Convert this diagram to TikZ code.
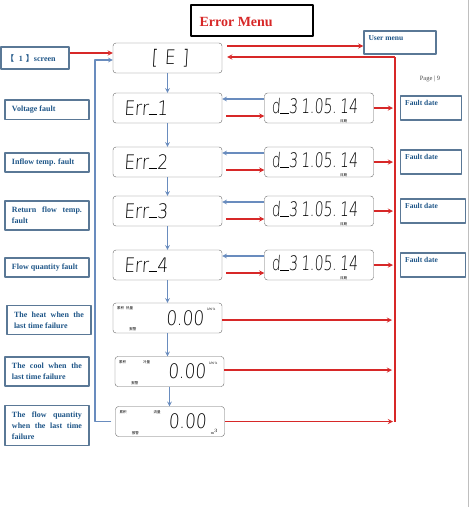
\documentclass[tikz,border=0pt]{standalone}
\usepackage{fontspec}
\setmainfont{Liberation Serif}
\newfontfamily\segfont[FakeStretch=0.85,FakeSlant=0.06]{DejaVu Sans ExtraLight}
\newfontfamily\segnarrow[FakeStretch=0.7,FakeSlant=0.06]{DejaVu Sans ExtraLight}
\newfontfamily\cjk{Noto Sans CJK SC}
\newcommand\segbar{\rule{0.42em}{0.07em}}
\usetikzlibrary{arrows.meta}
\definecolor{menured}{RGB}{215,40,40}
\definecolor{linkblue}{RGB}{105,140,190}
\definecolor{boxline}{RGB}{90,120,150}
\definecolor{labtext}{RGB}{30,85,135}
\begin{document}
\begin{tikzpicture}[x=1pt,y=-1pt,line join=round,>=stealth,
	lab/.style={draw=boxline,line width=1.4pt,text width=70pt,align=justify,inner xsep=7pt,inner ysep=6pt,
		font=\bfseries\fontsize{8}{11}\selectfont,text=labtext},
	tag/.style={draw=boxline,line width=1.4pt},
	tagtext/.style={anchor=north west,inner sep=5pt,font=\bfseries\fontsize{7.5}{9}\selectfont,text=labtext},
	lcd/.style={draw=black!60,rounded corners=3pt,minimum width=109pt,minimum height=30pt,thin},
	seg/.style={font=\segfont\fontsize{20}{20}\selectfont,inner sep=0pt},
	segd/.style={font=\segnarrow\fontsize{20}{20}\selectfont,inner sep=0pt},
	tiny/.style={font=\cjk\fontsize{3.5}{4}\selectfont,inner sep=0pt},
	redar/.style={->,draw=menured,line width=1.3pt},
	bluear/.style={->,draw=linkblue,line width=1.1pt}]
	\useasboundingbox (0,0) rectangle (471,507);
	\draw[black!25] (468,0)--(468,507);
	% title
	\node[draw,line width=1.3pt,minimum width=122pt,minimum height=31pt] (title) at (252,20.5) {};
	\node[anchor=west,text=menured,font=\bfseries\fontsize{14}{14}\selectfont] (titletext) at (196,21.5) {Error Menu};
	\node[font=\fontsize{6.5}{7}\selectfont,text=black!70] (page) at (430,79) {Page | 9};
	% entry and main display
	\node[lab,text width=58pt,inner xsep=5pt,align=left,minimum height=22pt] (scr) at (35,58) {{\cjk【}\hspace{5pt}1\hspace{3pt}{\cjk】}screen};
	\node[lcd] (ce) at (167.5,58) {};
	\node[seg] (cetext) at (170,58) {[\,\,E\,\,]};
	\node[tag,minimum width=72pt,minimum height=23pt,label={[tagtext]north west:User menu}] (user) at (400,42.5) {};
	% fault rows
	\foreach \k/\y/\w in {1/108/61,2/162/61,3/211/65,4/265/65}{
		\node[lcd] (e\k) at (167.5,\y) {};
		\node[seg,anchor=west] (e\k t) at ([xshift=11pt]e\k.west) {Err\segbar\k};
		\node[lcd] (d\k) at (319,\y) {};
		\node[segd,anchor=west] (d\k t) at ([xshift=7pt,yshift=1.5pt]d\k.west) {d\segbar3\,1.05.\,14};
		\node[tiny] (d\k s) at ([xshift=-30pt,yshift=2.5pt]d\k.south east) {日期};
		\node[tag,minimum width=\w pt,minimum height=24pt,anchor=west,label={[tagtext]north west:Fault date}] (f\k) at (400,\y) {};
		\draw[bluear] ([yshift=9pt]d\k.west) -- ([yshift=9pt]d\k.west -| e\k.east);
		\draw[redar] ([xshift=4pt,yshift=-8pt]e\k.east) -- ([yshift=-8pt]e\k.east -| d\k.west);
		\draw[redar] (d\k.east) -- (393,\y);
	}
	% totals
	\foreach \k/\x/\y/\what/\wx in {1/167.5/318/热量/13,2/169.5/371.5/冷量/28,3/170/421.5/流量/38}{
		\node[lcd] (h\k) at (\x,\y) {};
		\node[seg,anchor=east] (h\k t) at ([xshift=-18pt]h\k.east) {0.00};
		\node[tiny,anchor=north west] (h\k a) at ([xshift=4pt,yshift=-4pt]h\k.north west) {累积};
		\node[tiny,anchor=north west] (h\k b) at ([xshift=\wx pt,yshift=-4pt]h\k.north west) {\what};
		\node[tiny] (h\k c) at ([xshift=20pt,yshift=4pt]h\k.south west) {报警};
	}
	\node[tiny,font=\fontsize{3.5}{4}\selectfont,anchor=west] (h1u) at ([xshift=-15pt,yshift=-7pt]h1.north east) {kW·h};
	\node[tiny,font=\fontsize{3.5}{4}\selectfont,anchor=west] (h2u) at ([xshift=-15pt,yshift=-7pt]h2.north east) {kW·h};
	\node[tiny,font=\fontsize{4}{4}\selectfont,anchor=west] (h3u) at ([xshift=-14pt,yshift=5pt]h3.south east) {m$^3$};
	% left labels
	\node[lab] (l1) at (47,109.5) {Voltage fault};
	\node[lab] (l2) at (47,162.5) {Inflow temp. fault};
	\node[lab] (l3) at (47,215.5) {Return flow temp. fault};
	\node[lab] (l4) at (47,267.5) {Flow quantity fault};
	\node[lab] (l5) at (49,320) {The heat when the last time failure};
	\node[lab] (l6) at (47,371.5) {The cool when the last time failure};
	\node[lab] (l7) at (47,425.5) {The flow quantity when the last time failure};
	% blue chain
	\draw[bluear] (ce.south) -- (e1.north);
	\draw[bluear] (e1.south) -- (e2.north);
	\draw[bluear] (e2.south) -- (e3.north);
	\draw[bluear] (e3.south) -- (e4.north);
	\draw[bluear] (e4.south) -- (h1.north);
	\draw[bluear] (h1.south) -- (h1.south |- h2.north);
	\draw[bluear] (h2.south) -- (h2.south |- h3.north);
	\draw[bluear] ([xshift=-4pt]h3.west) -- (95,421.5) -- (95,60) -- ([yshift=-2pt]ce.west);
	% red links
	\coordinate (rtop) at (395,57);
	\coordinate (rbot) at (395,421.5);
	\draw[redar] (scr.east |- 0,53) -- ([yshift=5pt]ce.west);
	\draw[redar] ([xshift=5pt,yshift=12pt]ce.east) -- ([yshift=12pt]ce.east -| user.west);
	\draw[menured,line width=1.3pt] (rbot) -- (rtop);
	\draw[redar] (rtop) -- ([xshift=5pt]rtop -| ce.east);
	\foreach \k/\y in {1/320,2/370}{
		\draw[redar] (h\k.east |- 0,\y) -- (392,\y);}
	\draw[redar] (h3.east) -- (393,421.5);
\end{tikzpicture}
\end{document}
